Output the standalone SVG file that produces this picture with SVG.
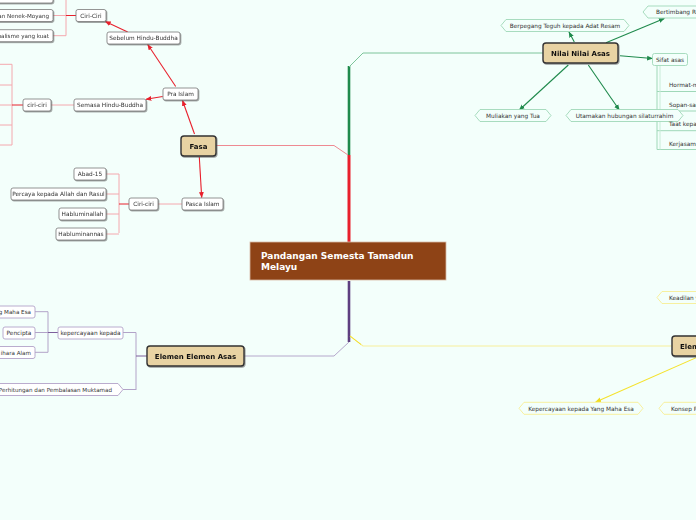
<svg xmlns="http://www.w3.org/2000/svg" width="696" height="520" viewBox="0 0 696 520">
<defs>
<style>
text{font-family:"DejaVu Sans","Liberation Sans",sans-serif;fill:#333}
.t{font-size:5.8px;text-anchor:middle}
.te{font-size:5.6px;text-anchor:end}
.ts{font-size:5.8px}
.main rect{fill:#e8d3a3;stroke:#333;stroke-width:1.4}
.main text{font-size:7px;font-weight:bold;text-anchor:middle;fill:#111}
.sub rect{fill:#fff;stroke:#7a7a7a;stroke-width:0.8}
.g{fill:#f3fffb;stroke:#9fd8b8;stroke-width:0.9}
.y{fill:#f3fffb;stroke:#f7ee94;stroke-width:0.9}
.p{fill:#fff;stroke:#b2a3c8;stroke-width:0.9}
.ar{stroke:#e8202c;stroke-width:1.1;fill:none}
.pk{stroke:#f4a8ae;stroke-width:1;fill:none}
.ag{stroke:#1f8a4c;stroke-width:1.1;fill:none}
.lg{stroke:#9fd8b8;stroke-width:1;fill:none}
.lp{stroke:#b2a3c8;stroke-width:1;fill:none}
</style>
<filter id="sh" x="-20%" y="-20%" width="150%" height="160%"><feDropShadow dx="0.8" dy="1" stdDeviation="0.5" flood-color="#555" flood-opacity="0.6"/></filter>
<marker id="mr" viewBox="0 0 10 10" refX="9" refY="5" markerWidth="6" markerHeight="6" markerUnits="userSpaceOnUse" orient="auto"><path d="M0,1 L10,5 L0,9 Z" fill="#e8202c"/></marker>
<marker id="mg" viewBox="0 0 10 10" refX="9" refY="5" markerWidth="6" markerHeight="6" markerUnits="userSpaceOnUse" orient="auto"><path d="M0,1 L10,5 L0,9 Z" fill="#1f8a4c"/></marker>
<marker id="my" viewBox="0 0 10 10" refX="9" refY="5" markerWidth="6" markerHeight="6" markerUnits="userSpaceOnUse" orient="auto"><path d="M0,1 L10,5 L0,9 Z" fill="#f0dc1e"/></marker>
</defs>
<rect x="0" y="0" width="696" height="520" fill="#f3fffb"/>

<g id="connectors">
<path d="M349,242 V155" stroke="#e8202c" stroke-width="3" fill="none"/>
<path d="M349,155 V66" stroke="#1f8a4c" stroke-width="2.6" fill="none"/>
<path d="M349,67 L363,53 H543" stroke="#7cc49a" stroke-width="1" fill="none"/>
<path d="M348,155 L334,145.5 H216" stroke="#ee8a92" stroke-width="1" fill="none"/>
<path d="M349,281 V342" stroke="#5e3f80" stroke-width="2.6" fill="none"/>
<path d="M349,342 L334,356 H244" stroke="#b5a8cc" stroke-width="1" fill="none"/>
<path d="M350,336 L363,346 H672" stroke="#f7ef9c" stroke-width="1.2" fill="none"/>
<path d="M350,336 L361,344.5" stroke="#f2df2a" stroke-width="1" fill="none"/>
<path class="ar" d="M194.5,134 L182.5,100.5" marker-end="url(#mr)"/>
<path class="ar" d="M199.3,157 L201.7,197.5" marker-end="url(#mr)"/>
<path class="ar" d="M175.7,86.5 L147.7,44.5" marker-end="url(#mr)"/>
<path class="ar" d="M162.7,96.5 L146,99.3" marker-end="url(#mr)"/>
<path class="ar" d="M127.7,32 L105.3,21.5" marker-end="url(#mr)"/>
<path class="pk" d="M74,105 H51"/>
<path class="pk" d="M182,204 H158"/>
<path class="pk" d="M66,0 V35.7 M53,-3 H66 M53,15.5 H66 M53,35.7 H66"/>
<path d="M66,15.5 H76" stroke="#e8202c" stroke-width="1" fill="none"/>
<path class="pk" d="M12,64.3 V145 M0,64.3 H12 M0,85 H12 M0,105 H12 M0,125 H12 M0,145 H12"/>
<path d="M12,105 H23" stroke="#e8202c" stroke-width="1" fill="none"/>
<path class="pk" d="M119,174 V233 M106,174 H119 M106,194 H119 M106,214 H119 M106,234 H119"/>
<path d="M119,204 H129" stroke="#e8202c" stroke-width="1" fill="none"/>
<path class="ag" d="M574.3,42 L569,32" marker-end="url(#mg)"/>
<path class="ag" d="M606,42.7 L664.3,18.5" marker-end="url(#mg)"/>
<path class="ag" d="M620,55.7 L652.5,58.5" marker-end="url(#mg)"/>
<path class="ag" d="M568.3,65 L519.3,110" marker-end="url(#mg)"/>
<path class="ag" d="M588.3,65 L619.3,110" marker-end="url(#mg)"/>
<path class="lg" d="M657,66 V149.5 M657,91.5 H700 M657,111 H700 M657,130.7 H700 M657,149.5 H700"/>
<path d="M660,66 V149.5" stroke="#c8ecd8" stroke-width="1" fill="none"/>
<path class="lp" d="M136,332.5 V390 M123,332.5 H136 M123,389.5 H136"/>
<path d="M136,356 H147" stroke="#7d5f9c" stroke-width="1" fill="none"/>
<path class="lp" d="M48,311.7 V352.3 M35,311.7 H48 M35,332.5 H48 M35,352.3 H48"/>
<path d="M48,332.5 H58" stroke="#7d5f9c" stroke-width="1" fill="none"/>
<path d="M697,357.3 L595.7,402" stroke="#f5e22c" stroke-width="1.1" fill="none" marker-end="url(#my)"/>
</g>

<g id="central">
<rect x="250" y="242" width="196" height="38" fill="#8e4316" stroke="#d8b9a6" stroke-width="0.8"/>
<text x="261" y="259" style="font-size:9px;font-weight:bold;fill:#fff">Pandangan Semesta Tamadun</text>
<text x="261" y="270" style="font-size:9px;font-weight:bold;fill:#fff">Melayu</text>
</g>

<g id="fasa" class="main" filter="url(#sh)"><rect x="181" y="136" width="35" height="20" rx="3"/><text x="198.5" y="148.5">Fasa</text></g>
<g id="nilai" class="main" filter="url(#sh)"><rect x="543" y="43" width="75" height="20" rx="3"/><text x="580.5" y="55.5">Nilai Nilai Asas</text></g>
<g id="elemen-asas" class="main" filter="url(#sh)"><rect x="147" y="346" width="97" height="20" rx="3"/><text x="195.5" y="358.5">Elemen Elemen Asas</text></g>
<g id="elemen-right" class="main" filter="url(#sh)"><rect x="672" y="336" width="70" height="20" rx="3"/><text x="680" y="348.5" style="text-anchor:start">Elemen</text></g>

<g id="pra-islam" class="sub" filter="url(#sh)"><rect x="163" y="88" width="35" height="12" rx="2"/><text class="t" x="180.5" y="96.2">Pra Islam</text></g>
<g id="sebelum" class="sub" filter="url(#sh)"><rect x="107" y="32" width="73" height="12" rx="2"/><text class="t" x="143.5" y="40.2">Sebelum Hindu-Buddha</text></g>
<g id="ciri-ciri-1" class="sub" filter="url(#sh)"><rect x="76" y="9.5" width="30" height="12" rx="2"/><text class="t" x="91" y="17.7">Ciri-Ciri</text></g>
<g id="c1a" class="sub" filter="url(#sh)"><rect x="-20" y="-9" width="73" height="12" rx="2"/></g>
<g id="c1b" class="sub" filter="url(#sh)"><rect x="-20" y="9.5" width="73" height="12" rx="2"/><text class="te" x="49" y="17.7">an Nenek-Moyang</text></g>
<g id="c1c" class="sub" filter="url(#sh)"><rect x="-20" y="29.7" width="73" height="12" rx="2"/><text class="te" x="49" y="37.9">ualisme yang kuat</text></g>
<g id="semasa" class="sub" filter="url(#sh)"><rect x="74" y="99" width="72" height="12" rx="2"/><text class="t" x="110" y="107.2">Semasa Hindu-Buddha</text></g>
<g id="ciri-ciri-2" class="sub" filter="url(#sh)"><rect x="23" y="99" width="28" height="12" rx="2"/><text class="t" x="37" y="107.2">ciri-ciri</text></g>
<g id="pasca" class="sub" filter="url(#sh)"><rect x="182" y="198" width="41" height="12" rx="2"/><text class="t" x="202.5" y="206.2">Pasca Islam</text></g>
<g id="ciri-ciri-3" class="sub" filter="url(#sh)"><rect x="129" y="198" width="29" height="12" rx="2"/><text class="t" x="143.5" y="206.2">Ciri-ciri</text></g>
<g id="abad" class="sub" filter="url(#sh)"><rect x="74" y="168" width="32" height="12" rx="2"/><text class="t" x="90" y="176.2">Abad-15</text></g>
<g id="percaya" class="sub" filter="url(#sh)"><rect x="11" y="188" width="95" height="12" rx="2"/><text class="t" x="58.5" y="196.2">Percaya kepada Allah dan Rasul</text></g>
<g id="hablum-allah" class="sub" filter="url(#sh)"><rect x="59" y="208" width="47" height="12" rx="2"/><text class="t" x="82.5" y="216.2">Habluminallah</text></g>
<g id="hablum-nas" class="sub" filter="url(#sh)"><rect x="56" y="228" width="50" height="12" rx="2"/><text class="t" x="81" y="236.2">Habluminannas</text></g>

<g id="berpegang"><path class="g" d="M501,25.5 L506,19.5 H624 L629,25.5 L624,31.5 H506 Z"/><text class="t" x="565" y="27.7">Berpegang Teguh kepada Adat Resam</text></g>
<g id="bertimbang"><path class="g" d="M643,12 L648,6 H720 V18 H648 Z"/><text class="ts" x="656" y="14.2">Bertimbang Rasa</text></g>
<g id="muliakan"><path class="g" d="M475,115.5 L480,109.5 H546 L551,115.5 L546,121.5 H480 Z"/><text class="t" x="513" y="117.7">Muliakan yang Tua</text></g>
<g id="utamakan"><path class="g" d="M566,115.5 L571,109.5 H678 L683,115.5 L678,121.5 H571 Z"/><text class="t" x="624.5" y="117.7">Utamakan hubungan silaturrahim</text></g>
<g id="sifat"><rect class="g" x="652.5" y="53.5" width="35" height="12" rx="2"/><text class="t" x="670" y="61.7">Sifat asas</text></g>
<g id="hormat"><text class="ts" x="669" y="87">Hormat-menghormati</text></g>
<g id="sopan"><text class="ts" x="669" y="106.5">Sopan-santun</text></g>
<g id="taat"><text class="ts" x="669" y="126.3">Taat kepada</text></g>
<g id="kerjasama"><text class="ts" x="669" y="146">Kerjasama</text></g>

<g id="kepercayaan"><rect class="p" x="58" y="327" width="65" height="12" rx="2"/><text class="t" x="90.5" y="335.2">kepercayaan kepada</text></g>
<g id="maha-esa"><rect class="p" x="-20" y="306" width="55" height="12" rx="2"/><text class="te" x="31" y="314.2">g Maha Esa</text></g>
<g id="pencipta"><rect class="p" x="3" y="327" width="32" height="12" rx="2"/><text class="t" x="19" y="335.2">Pencipta</text></g>
<g id="pemelihara"><rect class="p" x="-20" y="346.5" width="55" height="12" rx="2"/><text class="te" x="31" y="354.7">ihara Alam</text></g>
<g id="perhitungan"><path class="p" d="M-10,383.5 H118 L123,389.5 L118,395.5 H-10 Z"/><text class="te" x="112" y="391.7">Perhitungan dan Pembalasan Muktamad</text></g>

<g id="keadilan"><path class="y" d="M657,297.5 L662,291.5 H720 V303.5 H662 Z"/><text class="ts" x="669" y="299.7">Keadilan yang</text></g>
<g id="kepercayaan-esa"><path class="y" d="M519,408.3 L524,402.3 H638 L643,408.3 L638,414.3 H524 Z"/><text class="t" x="581" y="410.5">Kepercayaan kepada Yang Maha Esa</text></g>
<g id="konsep"><path class="y" d="M659,408.3 L664,402.3 H720 V414.3 H664 Z"/><text class="ts" x="671" y="410.5">Konsep P</text></g>
</svg>
